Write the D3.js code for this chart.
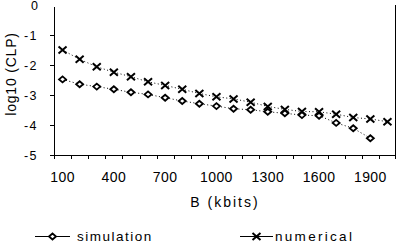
<!DOCTYPE html>
<html><head><meta charset="utf-8">
<script src="https://cdn.jsdelivr.net/npm/d3@7"></script>
<style>
html,body{margin:0;padding:0;background:#fff;}
text{font-family:"Liberation Sans",Arial,sans-serif;fill:#000;}
</style></head>
<body>
<svg id="c" width="397" height="243"></svg>
<script>
const categories = [100,200,300,400,500,600,700,800,900,1000,1100,1200,1300,1400,1500,1600,1700,1800,1900,2000];
const tickLabels = [100,400,700,1000,1300,1600,1900];
const simulation = [-2.48,-2.64,-2.72,-2.81,-2.91,-2.98,-3.09,-3.20,-3.29,-3.37,-3.46,-3.49,-3.56,-3.61,-3.67,-3.69,-3.93,-4.11,-4.44];
const numerical = [-1.50,-1.81,-2.06,-2.24,-2.39,-2.56,-2.68,-2.81,-2.95,-3.06,-3.13,-3.24,-3.38,-3.48,-3.55,-3.56,-3.64,-3.75,-3.80,-3.89];
const yTicks = [0,-1,-2,-3,-4,-5];

const svg = d3.select("#c");
const x = d3.scaleBand().domain(categories).range([54,396]);
const y = d3.scaleLinear().domain([-5,0]).range([155,5]);
const cx = v => x(v) + x.bandwidth()/2;

// axes lines
svg.append("line").attr("x1",54.5).attr("x2",54.5).attr("y1",y(0)+2).attr("y2",y(-5)).attr("stroke","#000");
svg.append("line").attr("x1",395.5).attr("x2",395.5).attr("y1",y(0)).attr("y2",y(-5)).attr("stroke","#000");
svg.append("line").attr("x1",54).attr("x2",396).attr("y1",y(-5)+0.5).attr("y2",y(-5)+0.5).attr("stroke","#000");

// y ticks
yTicks.forEach(t=>{
  if(t!==0) svg.append("line").attr("x1",50).attr("x2",54).attr("y1",Math.round(y(t))+0.5).attr("y2",Math.round(y(t))+0.5).attr("stroke","#000");
  svg.append("text").attr("x",38).attr("y",y(t)+4.5).attr("text-anchor","end")
    .style("font-size","12.5px").style("letter-spacing", t===0?"0px":"1.5px").text(t===0?"0":"-"+Math.abs(t));
});
// x ticks at boundaries
categories.forEach((c,i)=>{
  const xb = Math.round(x(c))+0.5;
  svg.append("line").attr("x1",xb).attr("x2",xb).attr("y1",155).attr("y2",159).attr("stroke","#000");
});
svg.append("line").attr("x1",395.5).attr("x2",395.5).attr("y1",155).attr("y2",159).attr("stroke","#000");
tickLabels.forEach(t=>{
  svg.append("text").attr("x",cx(t)).attr("y",182).attr("text-anchor","middle")
    .style("font-size","14px").style("letter-spacing","0.4px").text(t);
});

// titles
svg.append("text").attr("x",225).attr("y",207).attr("text-anchor","middle")
  .style("font-size","14px").style("letter-spacing","2px").text("B (kbits)");
svg.append("text").attr("transform","translate(16,74) rotate(-90)").attr("text-anchor","middle")
  .style("font-size","14px").style("letter-spacing","0.8px").text("log10 (CLP)");

// lines
const lineSim = d3.line().x((d,i)=>cx(categories[i])).y(d=>y(d));
svg.append("path").datum(simulation).attr("d",lineSim).attr("fill","none").attr("stroke","#000")
  .attr("stroke-width",1).attr("stroke-dasharray","1,2.5");
svg.append("path").datum(numerical).attr("d",lineSim).attr("fill","none").attr("stroke","#000")
  .attr("stroke-width",1).attr("stroke-dasharray","1,2.5");

function diamond(g,px,py){
  g.append("path").attr("d",`M${px-3.5},${py} L${px},${py-3} L${px+3.5},${py} L${px},${py+3} Z`)
   .attr("fill","#fff").attr("stroke","#000").attr("stroke-width",1.8);
}
function cross(g,px,py){
  g.append("path").attr("d",`M${px-4},${py-3.5} L${px+4},${py+3.5} M${px-4},${py+3.5} L${px+4},${py-3.5}`)
   .attr("fill","none").attr("stroke","#000").attr("stroke-width",2);
}
const gm = svg.append("g");
simulation.forEach((v,i)=>diamond(gm,cx(categories[i]),y(v)));
numerical.forEach((v,i)=>cross(gm,cx(categories[i]),y(v)));

// legend
const ly = 236.5;
svg.append("line").attr("x1",35).attr("x2",70).attr("y1",ly).attr("y2",ly).attr("stroke","#000").attr("stroke-width",1);
diamond(svg,52.5,ly);
svg.append("text").attr("x",77).attr("y",240.5).style("font-size","13.5px").style("letter-spacing","1.5px").text("simulation");
svg.append("line").attr("x1",240).attr("x2",273).attr("y1",ly).attr("y2",ly).attr("stroke","#000").attr("stroke-width",1);
cross(svg,256.5,ly);
svg.append("text").attr("x",275).attr("y",240.5).style("font-size","13.5px").style("letter-spacing","2.3px").text("numerical");
</script>
</body></html>
